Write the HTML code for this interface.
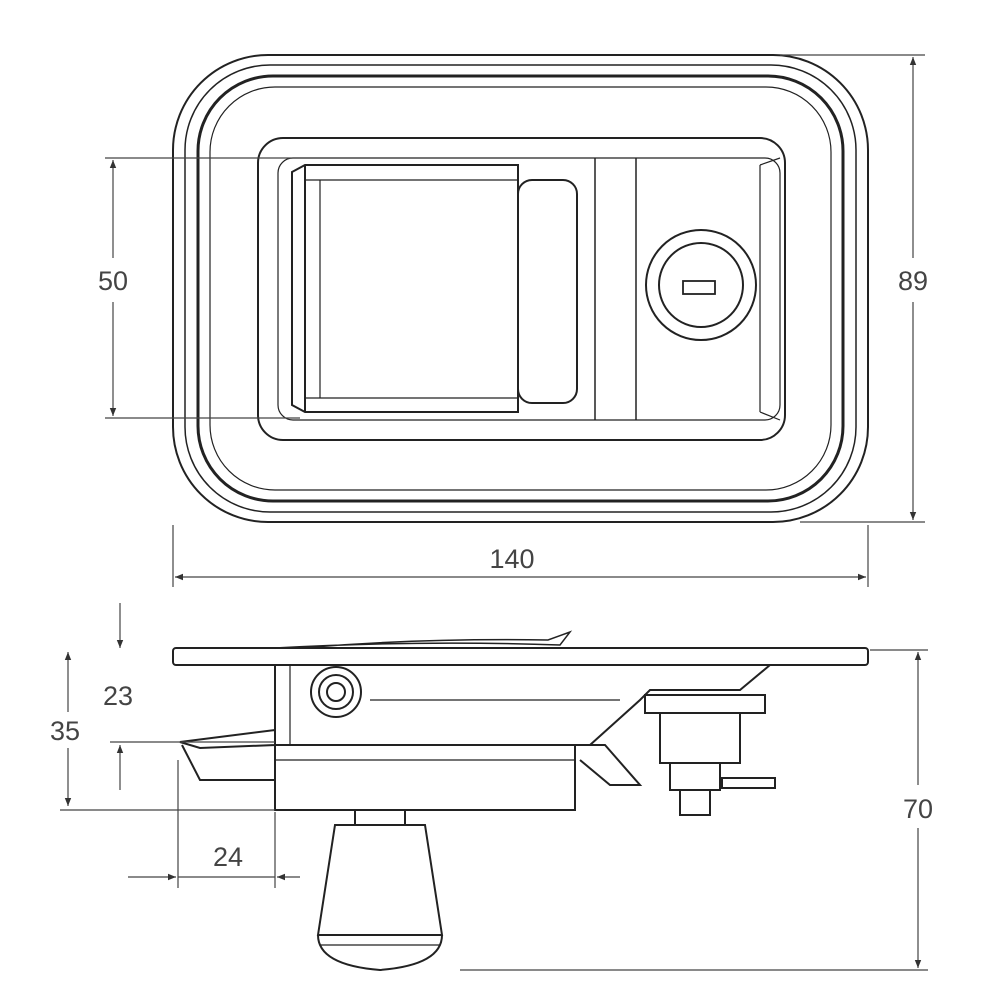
<!DOCTYPE html>
<html><head><meta charset="utf-8"><style>
html,body{margin:0;padding:0;background:#fff;width:1000px;height:1000px;overflow:hidden}
text{font-family:"Liberation Sans",sans-serif;font-size:27px;fill:#444}
</style></head><body>
<svg width="1000" height="1000" viewBox="0 0 1000 1000" xmlns="http://www.w3.org/2000/svg">
<defs><marker id="a" viewBox="0 0 10 10" refX="10" refY="5" markerWidth="14" markerHeight="8" orient="auto-start-reverse" markerUnits="userSpaceOnUse"><path d="M0,1 L10,5 L0,9 z" fill="#333"/></marker></defs>
<g fill="none" stroke="#222" stroke-width="2">
<!-- top view -->
<rect x="173" y="55" width="695" height="467" rx="95"/>
<rect x="185" y="65" width="671" height="447" rx="85" stroke-width="1.5"/>
<rect x="198" y="76" width="645" height="425" rx="75" stroke-width="3"/>
<rect x="210" y="87" width="621" height="403" rx="65" stroke-width="1.2"/>
<rect x="258" y="138" width="527" height="302" rx="25"/>
<rect x="278" y="158" width="502" height="262" rx="15" stroke-width="1.2"/>
<path d="M292 172 L305 165 L518 165 L518 412 L305 412 L292 405 Z"/>
<line x1="305" y1="165" x2="305" y2="412"/>
<line x1="320" y1="180" x2="320" y2="398" stroke-width="1.2"/>
<line x1="305" y1="180" x2="518" y2="180" stroke-width="1.2"/>
<line x1="305" y1="398" x2="518" y2="398" stroke-width="1.2"/>
<rect x="518" y="180" width="59" height="223" rx="14"/>
<line x1="595" y1="158" x2="595" y2="420" stroke-width="1.5"/>
<line x1="636" y1="158" x2="636" y2="420" stroke-width="1.5"/>
<line x1="760" y1="165" x2="760" y2="412" stroke-width="1.2"/>
<line x1="760" y1="165" x2="780" y2="158" stroke-width="1.2"/>
<line x1="760" y1="412" x2="780" y2="420" stroke-width="1.2"/>
<circle cx="701" cy="285" r="55"/>
<circle cx="701" cy="285" r="42"/>
<rect x="683" y="281" width="32" height="13" stroke-width="1.8"/>
<!-- dims top -->
<g stroke="#444" stroke-width="1.2">
<line x1="105" y1="158" x2="300" y2="158"/><line x1="105" y1="418" x2="300" y2="418"/>
<line x1="113" y1="160" x2="113" y2="258" marker-start="url(#a)"/><line x1="113" y1="302" x2="113" y2="416" marker-end="url(#a)"/>
<line x1="780" y1="55" x2="925" y2="55"/><line x1="800" y1="522" x2="925" y2="522"/>
<line x1="913" y1="57" x2="913" y2="258" marker-start="url(#a)"/><line x1="913" y1="302" x2="913" y2="520" marker-end="url(#a)"/>
<line x1="173" y1="525" x2="173" y2="587"/><line x1="868" y1="525" x2="868" y2="587"/>
<line x1="175" y1="577" x2="866" y2="577" marker-start="url(#a)" marker-end="url(#a)"/>
</g>
<!-- side view -->
<rect x="173" y="648" width="695" height="17" rx="3"/>
<path d="M275 648 Q420 640 560 645 L570 632 L548 640 Q420 638 300 648" stroke-width="1.5"/>
<path d="M275 665 L275 745 L590 745 L640 700 L650 690 L740 690 L770 665"/>
<line x1="290" y1="665" x2="290" y2="745" stroke-width="1.2"/>
<line x1="370" y1="700" x2="620" y2="700" stroke-width="1.2"/>
<circle cx="336" cy="692" r="25"/><circle cx="336" cy="692" r="17"/><circle cx="336" cy="692" r="9"/>
<path d="M180 742 L275 730 L275 745 L200 748 Z"/>
<path d="M182 745 L200 780 L275 780"/>
<rect x="275" y="745" width="300" height="65"/>
<line x1="275" y1="760" x2="575" y2="760" stroke-width="1.2"/>
<path d="M575 745 L605 745 L640 785 L610 785 L580 760"/>
<rect x="645" y="695" width="120" height="18"/>
<rect x="660" y="713" width="80" height="50"/>
<rect x="670" y="763" width="50" height="27"/>
<rect x="680" y="790" width="30" height="25"/>
<rect x="722" y="778" width="53" height="10"/>
<rect x="355" y="810" width="50" height="15"/>
<path d="M335 825 L425 825 L442 935 L318 935 Z"/>
<path d="M318 935 Q318 965 380 970 Q442 965 442 935"/>
<line x1="320" y1="945" x2="440" y2="945" stroke-width="1.2"/>
<g stroke="#444" stroke-width="1.2">
<line x1="60" y1="810" x2="275" y2="810"/><line x1="110" y1="742" x2="275" y2="742"/>
<line x1="68" y1="652" x2="68" y2="712" marker-start="url(#a)"/><line x1="68" y1="748" x2="68" y2="806" marker-end="url(#a)"/>
<line x1="120" y1="603" x2="120" y2="648" marker-end="url(#a)"/>
<line x1="120" y1="790" x2="120" y2="745" marker-end="url(#a)"/>
<line x1="178" y1="760" x2="178" y2="888"/><line x1="275" y1="812" x2="275" y2="888"/>
<line x1="128" y1="877" x2="176" y2="877" marker-end="url(#a)"/>
<line x1="300" y1="877" x2="277" y2="877" marker-end="url(#a)"/>
<line x1="178" y1="877" x2="275" y2="877"/>
<line x1="870" y1="650" x2="928" y2="650"/><line x1="460" y1="970" x2="928" y2="970"/>
<line x1="918" y1="652" x2="918" y2="785" marker-start="url(#a)"/><line x1="918" y1="828" x2="918" y2="968" marker-end="url(#a)"/>
</g>
</g>
<text x="113" y="290" text-anchor="middle">50</text>
<text x="913" y="290" text-anchor="middle">89</text>
<text x="512" y="568" text-anchor="middle">140</text>
<text x="118" y="705" text-anchor="middle">23</text>
<text x="65" y="740" text-anchor="middle">35</text>
<text x="228" y="866" text-anchor="middle">24</text>
<text x="918" y="818" text-anchor="middle">70</text>
</svg>
</body></html>
